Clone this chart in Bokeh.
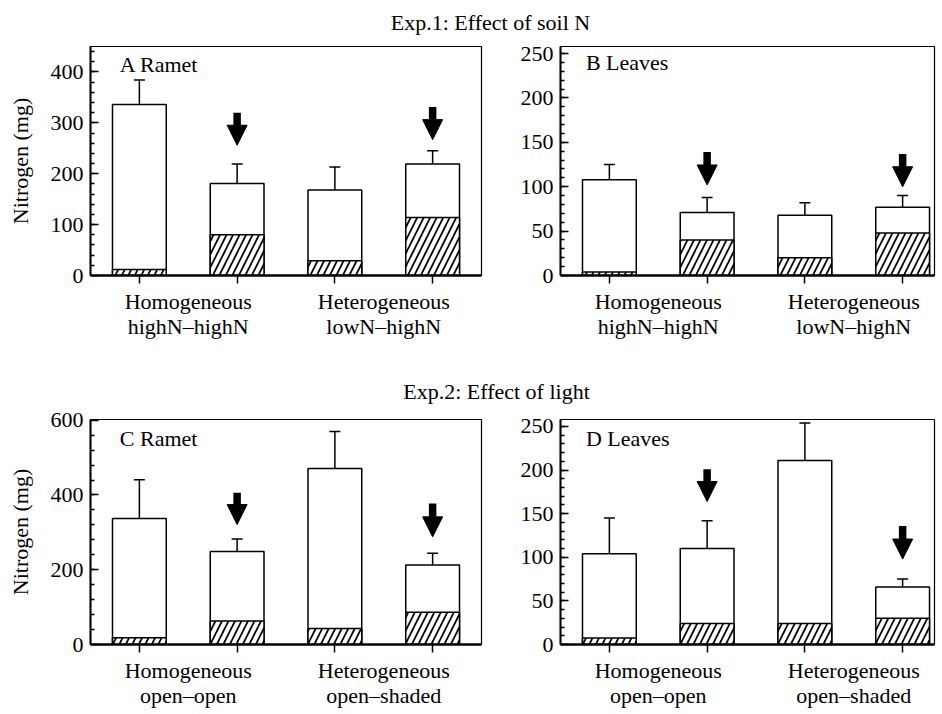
from bokeh.plotting import figure
from bokeh.layouts import column, row
from bokeh.models import (ColumnDataSource, FixedTicker, Whisker, TeeHead, Arrow,
                          NormalHead, Label, Range1d)
from bokeh.core.properties import value
from bokeh.embed import file_html
from bokeh.resources import INLINE

FONT = "Liberation Serif"
FS = "22px"

# ---------------- data ----------------
positions = [0.5, 1.5, 2.5, 3.5]
arrow_positions = [1.5, 3.5]

labels_exp1 = {1: "Homogeneous\nhighN\u2013highN", 3: "Heterogeneous\nlowN\u2013highN"}
labels_exp2 = {1: "Homogeneous\nopen\u2013open", 3: "Heterogeneous\nopen\u2013shaded"}

# Panel A: Ramet (Exp.1)
A_total = [336, 181, 168, 219]
A_total_se = [48, 38, 45, 26]
A_hatch = [12, 80, 29, 114]
A_hatch_se = [4, 18, 8, 13]
A_arrow_top = [320, 331]
A_arrow_tip = [256, 267]

# Panel B: Leaves (Exp.1)
B_total = [108, 71, 68, 77]
B_total_se = [17, 17, 14, 13]
B_hatch = [4, 40, 20, 48]
B_hatch_se = [1.5, 9.5, 6, 7]
B_arrow_top = [139, 137]
B_arrow_tip = [102, 100]

# Panel C: Ramet (Exp.2)
C_total = [337, 249, 471, 213]
C_total_se = [104, 33, 99, 31]
C_hatch = [18, 63, 43, 86]
C_hatch_se = [8, 18, 8, 16]
C_arrow_top = [406, 377]
C_arrow_tip = [321, 288]

# Panel D: Leaves (Exp.2)
D_total = [104, 110, 211, 66]
D_total_se = [41, 32, 43, 9]
D_hatch = [7.5, 24, 24, 30]
D_hatch_se = [2, 5.5, 5.5, 5]
D_arrow_top = [201, 136]
D_arrow_tip = [164, 98]


def title_fig(text, height, y_from_top, cx):
    t = figure(width=936, height=height, x_range=Range1d(0, 936), y_range=Range1d(0, height),
               min_border=0, toolbar_location=None, output_backend="svg",
               x_axis_location=None, y_axis_location=None)
    t.outline_line_color = None
    t.xgrid.visible = False
    t.ygrid.visible = False
    t.text(x=[cx], y=[height - y_from_top], text=[text], text_align="center",
           text_baseline="middle", text_font=value(FONT), text_font_size=FS,
           text_color="black")
    return t


def panel(width, height, left, right, top, bottom, xmax, ymax, major, minor,
          total, total_se, hatch, hatch_se, arrow_top, arrow_tip, xlabels, name,
          name_x, name_y, ylabel):
    p = figure(width=width, height=height, x_range=Range1d(0, xmax), y_range=Range1d(0, ymax),
               toolbar_location=None, output_backend="svg",
               min_border_left=left, min_border_right=right,
               min_border_top=top, min_border_bottom=bottom)
    p.xgrid.visible = False
    p.ygrid.visible = False
    p.outline_line_color = "black"
    p.outline_line_width = 1.2
    p.background_fill_color = "white"
    p.border_fill_color = "white"

    # x axis
    xa = p.xaxis[0]
    xa.ticker = FixedTicker(ticks=[1, 3], minor_ticks=positions)
    xa.major_label_overrides = xlabels
    xa.major_tick_in = 0
    xa.major_tick_out = 0
    xa.minor_tick_in = 0
    xa.minor_tick_out = 8
    xa.minor_tick_line_width = 1.5
    xa.minor_tick_line_color = "black"
    xa.axis_line_width = 2.5
    xa.axis_line_color = "black"
    xa.major_label_standoff = 5
    xa.major_label_text_font = FONT
    xa.major_label_text_font_size = FS
    xa.major_label_text_color = "black"
    xa.major_label_text_line_height = 1.0

    # y axis
    ya = p.yaxis[0]
    ya.ticker = FixedTicker(ticks=major, minor_ticks=minor)
    ya.major_tick_in = 8
    ya.major_tick_out = 0
    ya.minor_tick_in = 4
    ya.minor_tick_out = 0
    ya.major_tick_line_width = 1.5
    ya.minor_tick_line_width = 1.5
    ya.major_tick_line_color = "black"
    ya.minor_tick_line_color = "black"
    ya.axis_line_width = 2
    ya.axis_line_color = "black"
    ya.major_label_standoff = 7
    ya.major_label_text_font = FONT
    ya.major_label_text_font_size = FS
    ya.major_label_text_color = "black"
    if ylabel:
        ya.axis_label = ylabel
        ya.axis_label_text_font = FONT
        ya.axis_label_text_font_size = FS
        ya.axis_label_text_font_style = "normal"
        ya.axis_label_text_color = "black"
        ya.axis_label_standoff = 15

    src = ColumnDataSource(dict(
        x=positions,
        total=total,
        total_err=[v + e for v, e in zip(total, total_se)],
        hatch=hatch,
        hatch_err=[v + e for v, e in zip(hatch, hatch_se)],
    ))

    p.vbar(x="x", top="total", bottom=0, width=0.55, source=src,
           fill_color="white", line_color="black", line_width=1.5)
    p.vbar(x="x", top="hatch", bottom=0, width=0.55, source=src,
           fill_color="white", line_color="black", line_width=1.5,
           hatch_pattern="right_diagonal_line", hatch_color="black",
           hatch_weight=1.7, hatch_scale=13)

    for lo, hi in (("total", "total_err"), ("hatch", "hatch_err")):
        w = Whisker(base="x", lower=lo, upper=hi, source=src, dimension="height",
                    line_color="black", line_width=1.5,
                    upper_head=TeeHead(size=11, line_width=1.5, line_color="black"),
                    lower_head=None)
        p.add_layout(w)

    asrc = ColumnDataSource(dict(x=arrow_positions, top=arrow_top, tip=arrow_tip))
    arr = Arrow(x_start="x", y_start="top", x_end="x", y_end="tip", source=asrc,
                line_width=7.5, line_color="black",
                end=NormalHead(size=20, fill_color="black", line_color="black", line_width=1))
    p.add_layout(arr)

    p.add_layout(Label(x=name_x, y=name_y, text=name,
                       text_baseline="middle", text_font=FONT, text_font_size=FS,
                       text_color="black"))
    return p


t1 = title_fig("Exp.1: Effect of soil N", 42, 22, 490)
pA = panel(483, 323, 90, 2, 4, 90, 4.0, 450, [0, 100, 200, 300, 400],
           list(range(20, 450, 20)), A_total, A_total_se, A_hatch, A_hatch_se,
           A_arrow_top, A_arrow_tip, labels_exp1, "A Ramet", 0.3, 415, "Nitrogen (mg)")
pB = panel(453, 323, 77, 2, 4, 90, 3.826, 258, [0, 50, 100, 150, 200, 250],
           list(range(10, 260, 10)), B_total, B_total_se, B_hatch, B_hatch_se,
           B_arrow_top, B_arrow_tip, labels_exp1, "B Leaves", 0.26, 240, None)
t2 = title_fig("Exp.2: Effect of light", 41, 26, 496)
pC = panel(483, 304, 90, 2, 13, 63, 4.0, 602, [0, 200, 400, 600],
           list(range(40, 600, 40)), C_total, C_total_se, C_hatch, C_hatch_se,
           C_arrow_top, C_arrow_tip, labels_exp2, "C Ramet", 0.3, 551, "Nitrogen (mg)")
pD = panel(453, 304, 77, 2, 13, 63, 3.826, 258, [0, 50, 100, 150, 200, 250],
           list(range(10, 260, 10)), D_total, D_total_se, D_hatch, D_hatch_se,
           D_arrow_top, D_arrow_tip, labels_exp2, "D Leaves", 0.26, 236, None)

layout = column(t1, row(pA, pB), t2, row(pC, pD))
open("out.html", "w").write(file_html(layout, INLINE))
